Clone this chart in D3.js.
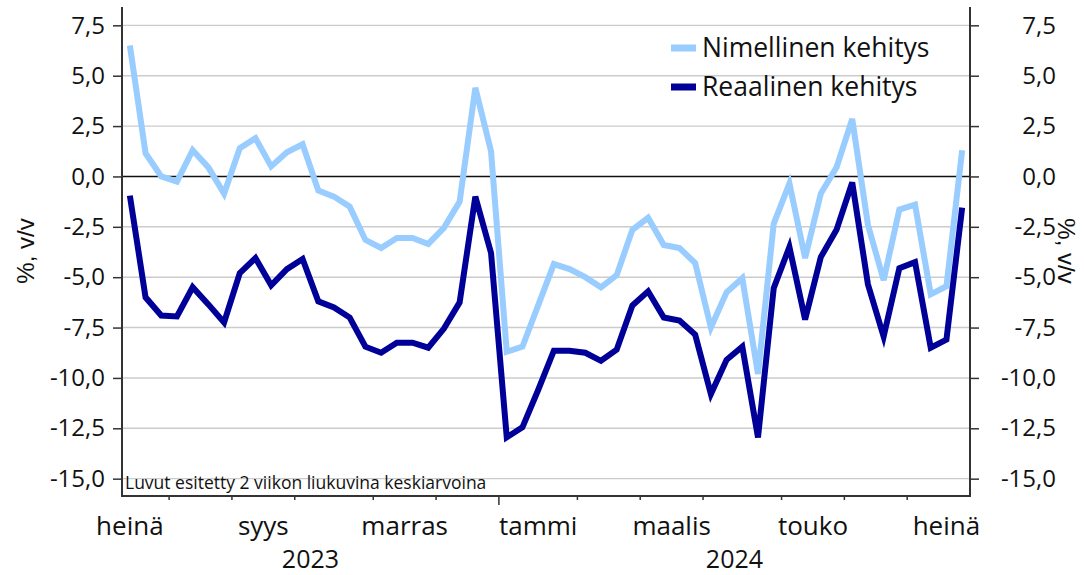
<!DOCTYPE html>
<html lang="fi">
  <head>
    <meta charset="UTF-8" />
    <title>Nimellinen ja reaalinen kehitys</title>
    <script src="https://d3js.org/d3.v7.min.js"></script>
    <style>
      body { margin: 0; background: #fff; }
      svg { display: block; font-family: 'Open Sans', sans-serif; }
    </style>
  </head>
  <body>
    <svg id="chart"></svg>
    <script>
      const width = 1084
      const height = 575
      const margin = { top: 7, right: 114, bottom: 79, left: 122 }

      // weekly points, first week starting 17.7.2023
      const firstWeek = new Date(2023, 6, 17)
      const weeks = d3.timeMonday.range(firstWeek, new Date(2024, 6, 23))

      const nimellinen = [
        6.5, 1.15, 0.0, -0.25, 1.3, 0.45, -0.85, 1.4, 1.9, 0.5,
        1.2, 1.6, -0.7, -1.0, -1.5, -3.15, -3.55, -3.05, -3.05, -3.35,
        -2.55, -1.25, 4.4, 1.25, -8.7, -8.45, -6.4, -4.35, -4.6, -5.0,
        -5.5, -4.9, -2.65, -2.05, -3.4, -3.55, -4.3, -7.5, -5.75, -5.05,
        -9.8, -2.35, -0.35, -4.05, -0.85, 0.45, 2.85, -2.4, -5.15, -1.65,
        -1.4, -5.85, -5.45, 1.3
      ]
      const reaalinen = [
        -0.95, -6.0, -6.9, -6.95, -5.5, -6.35, -7.25, -4.8, -4.05, -5.4,
        -4.6, -4.1, -6.2, -6.5, -7.0, -8.45, -8.75, -8.25, -8.25, -8.5,
        -7.55, -6.25, -1.0, -3.8, -12.95, -12.45, -10.6, -8.65, -8.65, -8.75,
        -9.15, -8.6, -6.4, -5.7, -7.0, -7.15, -7.85, -10.8, -9.1, -8.45,
        -12.95, -5.55, -3.5, -7.1, -4.0, -2.65, -0.3, -5.35, -7.95, -4.55,
        -4.25, -8.5, -8.1, -1.55
      ]

      const series = [
        { name: 'Nimellinen kehitys', values: nimellinen, color: '#99ccff' },
        { name: 'Reaalinen kehitys', values: reaalinen, color: '#000099' },
      ]

      const yTicks = [-15, -12.5, -10, -7.5, -5, -2.5, 0, 2.5, 5, 7.5]
      const monthNames = ['tammi', 'helmi', 'maalis', 'huhti', 'touko', 'kesä',
        'heinä', 'elo', 'syys', 'loka', 'marras', 'joulu']
      const labelledMonths = [
        new Date(2023, 6, 1), new Date(2023, 8, 1), new Date(2023, 10, 1),
        new Date(2024, 0, 1), new Date(2024, 2, 1), new Date(2024, 4, 1),
        new Date(2024, 6, 1)
      ]
      const years = [2023, 2024]
      const note = 'Luvut esitetty 2 viikon liukuvina keskiarvoina'
      const yTitle = '%, v/v'

      const x = d3.scaleLinear()
        .domain([0, weeks.length])
        .range([margin.left, width - margin.right])
      const y = d3.scaleLinear()
        .domain([-15.86, 8.41])
        .range([height - margin.bottom, margin.top])

      const svg = d3.select('#chart')
        .attr('width', width)
        .attr('height', height)

      const fmt = v => d3.format('.1f')(v).replace('.', ',').replace('−', '-')

      // grid
      svg.append('g')
        .selectAll('line')
        .data(yTicks)
        .join('line')
        .attr('x1', x.range()[0])
        .attr('x2', x.range()[1])
        .attr('y1', d => y(d))
        .attr('y2', d => y(d))
        .attr('stroke', d => d === 0 ? '#111' : '#cccccc')
        .attr('stroke-width', d => d === 0 ? 1.6 : 1.4)

      // left + right axes
      const yLeft = d3.axisLeft(y).tickValues(yTicks).tickSize(9).tickPadding(8).tickFormat(fmt)
      svg.append('g')
        .attr('transform', `translate(${margin.left},0)`)
        .call(yLeft)
        .call(g => g.select('.domain').remove())
        .call(g => g.selectAll('.tick line').attr('stroke', '#333').attr('stroke-width', 1.5))
        .call(g => g.selectAll('.tick text')
          .attr('font-size', 24).attr('fill', '#111').attr('font-family', 'Open Sans'))

      const yRight = d3.axisRight(y).tickValues(yTicks).tickSize(9).tickPadding(77).tickFormat(fmt)
      svg.append('g')
        .attr('transform', `translate(${width - margin.right},0)`)
        .call(yRight)
        .call(g => g.select('.domain').remove())
        .call(g => g.selectAll('.tick line').attr('stroke', '#333').attr('stroke-width', 1.5))
        .call(g => g.selectAll('.tick text')
          .attr('text-anchor', 'end')
          .attr('font-size', 24).attr('fill', '#111').attr('font-family', 'Open Sans'))

      // month boundaries on the x axis
      const boundaries = []
      weeks.forEach((w, i) => {
        if (i > 0 && w.getMonth() !== weeks[i - 1].getMonth()) {
          boundaries.push({ i: i, yearStart: w.getMonth() === 0 })
        }
      })
      const baseY = height - margin.bottom
      svg.append('g')
        .selectAll('line')
        .data(boundaries)
        .join('line')
        .attr('x1', d => x(d.i))
        .attr('x2', d => x(d.i))
        .attr('y1', baseY)
        .attr('y2', d => baseY + (d.yearStart ? 9 : 4))
        .attr('stroke', '#333')
        .attr('stroke-width', 1.5)

      // month labels centred on the whole month (weeks counted by monday)
      const monthCenter = m => {
        const mondays = d3.timeMonday.range(m, d3.timeMonth.offset(m, 1))
        const first = Math.round((mondays[0] - firstWeek) / (7 * 864e5))
        return first + mondays.length / 2
      }
      svg.append('g')
        .selectAll('text')
        .data(labelledMonths)
        .join('text')
        .attr('x', d => x(monthCenter(d)))
        .attr('y', 535)
        .attr('text-anchor', 'middle')
        .attr('font-size', 26)
        .attr('fill', '#111')
        .text(d => monthNames[d.getMonth()])

      svg.append('g')
        .selectAll('text')
        .data(years)
        .join('text')
        .attr('x', yr => {
          const idx = weeks.map((w, i) => w.getFullYear() === yr ? i : null).filter(i => i !== null)
          return x((idx[0] + idx[idx.length - 1] + 1) / 2)
        })
        .attr('y', 568)
        .attr('text-anchor', 'middle')
        .attr('font-size', 25)
        .attr('fill', '#111')
        .text(d => d)

      // lines
      const line = d3.line()
        .x((d, i) => x(i + 0.5))
        .y(d => y(d))
      svg.append('g')
        .selectAll('path')
        .data(series)
        .join('path')
        .attr('d', d => line(d.values))
        .attr('fill', 'none')
        .attr('stroke', d => d.color)
        .attr('stroke-width', 6)
        .attr('stroke-linejoin', 'miter')

      // axis frame
      svg.append('path')
        .attr('d', `M${x.range()[0]},${margin.top}V${baseY}H${x.range()[1]}V${margin.top}`)
        .attr('fill', 'none')
        .attr('stroke', '#333')
        .attr('stroke-width', 2)

      // note
      svg.append('text')
        .attr('x', margin.left + 3)
        .attr('y', 489)
        .attr('font-size', 17.5)
        .attr('fill', '#111')
        .text(note)

      // legend
      const legend = svg.append('g')
        .selectAll('g')
        .data(series)
        .join('g')
        .attr('transform', (d, i) => `translate(671,${48 + i * 39})`)
      legend.append('rect')
        .attr('x', 0).attr('y', -3.5)
        .attr('width', 25).attr('height', 7)
        .attr('fill', d => d.color)
      legend.append('text')
        .attr('x', 31).attr('y', 9)
        .attr('font-size', 26.5)
        .attr('fill', '#111')
        .text(d => d.name)

      // axis titles
      svg.append('text')
        .attr('transform', 'translate(34,251) rotate(-90)')
        .attr('text-anchor', 'middle')
        .attr('font-family', 'Liberation Sans')
        .attr('font-size', 24)
        .attr('fill', '#111')
        .text(yTitle)
      svg.append('text')
        .attr('transform', 'translate(1058,251) rotate(90)')
        .attr('text-anchor', 'middle')
        .attr('font-family', 'Liberation Sans')
        .attr('font-size', 24)
        .attr('fill', '#111')
        .text(yTitle)
    </script>
  </body>
</html>
